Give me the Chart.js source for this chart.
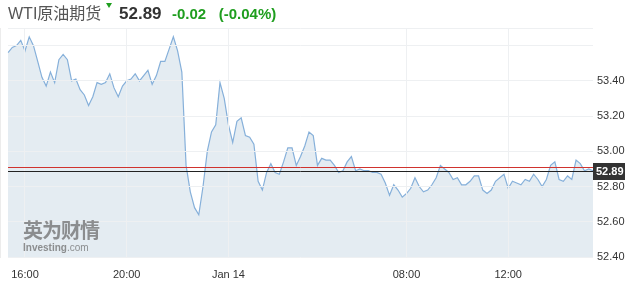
<!DOCTYPE html>
<html>
<head>
<meta charset="utf-8">
<script src="https://cdn.jsdelivr.net/npm/chart.js@4.4.1/dist/chart.umd.min.js"></script>
<style>
    body { margin: 0; background: #fff; }
    #wrap { position: relative; width: 639px; height: 284px; font-family: "Liberation Sans", Arial, "Noto Sans CJK SC", sans-serif; }
    #chart { position: absolute; left: 0; top: 0; }
    .hd { position: absolute; white-space: nowrap; line-height: 1; }
    #name { left: 8px; top: 6px; font-size: 16px; color: #555; }
    #arrow { position: absolute; left: 106px; top: 3px; width: 0; height: 0;
        border-left: 3.5px solid transparent; border-right: 3.5px solid transparent; border-top: 5px solid #1f9e1f; }
    #price { left: 119px; top: 5px; font-size: 17px; font-weight: bold; color: #333; }
    #change { left: 172px; top: 6px; font-size: 15px; font-weight: bold; color: #1f9e1f; }
    #wm1 { left: 23px; top: 220px; font-size: 20px; font-weight: bold; color: rgba(110,110,110,0.75); font-family: "Noto Sans CJK SC", sans-serif; letter-spacing: -1px; }
    #wm2 { left: 23px; top: 243px; font-size: 10px; color: rgba(110,110,110,0.75); }
    #wm2 b { font-weight: bold; }
</style>
</head>
<body>
<div id="wrap">
    <canvas id="chart" width="639" height="284"></canvas>
    <div class="hd" id="name">WTI原油期货</div>
    <div id="arrow"></div>
    <div class="hd" id="price">52.89</div>
    <div class="hd" id="change">-0.02&nbsp;&nbsp;&nbsp;(-0.04%)</div>
    <div class="hd" id="wm1">英为财情</div>
    <div class="hd" id="wm2"><b>Investing</b>.com</div>
</div>
<script>
// preço a cada 10 min, 15:20 -> 15:20 (pausa 06:00-07:00 removida)
const precos = [
    53.56, 53.59, 53.60, 53.63, 53.57, 53.65, 53.60, 53.51, 53.42, 53.37,
    53.45, 53.39, 53.52, 53.55, 53.52, 53.40, 53.41, 53.35, 53.32, 53.26,
    53.31, 53.39, 53.38, 53.39, 53.44, 53.36, 53.31, 53.37, 53.40, 53.41,
    53.44, 53.40, 53.43, 53.46, 53.38, 53.43, 53.51, 53.51, 53.58, 53.65,
    53.57, 53.45, 52.92, 52.77, 52.68, 52.64, 52.80, 53.00, 53.11, 53.15,
    53.39, 53.30, 53.15, 53.05, 53.17, 53.19, 53.09, 53.08, 53.04, 52.83,
    52.78, 52.88, 52.93, 52.88, 52.87, 52.94, 53.02, 53.02, 52.92, 52.97,
    53.03, 53.11, 53.09, 52.92, 52.96, 52.95, 52.95, 52.92, 52.88, 52.89,
    52.94, 52.97, 52.89, 52.90, 52.89, 52.89, 52.88, 52.88, 52.87, 52.82,
    52.75, 52.81, 52.78, 52.74, 52.76, 52.79, 52.85, 52.80, 52.77, 52.78,
    52.81, 52.85, 52.92, 52.90, 52.88, 52.84, 52.85, 52.81, 52.81, 52.83,
    52.86, 52.86, 52.78, 52.76, 52.78, 52.83, 52.85, 52.87, 52.79, 52.83,
    52.82, 52.81, 52.84, 52.83, 52.87, 52.84, 52.80, 52.84, 52.92, 52.94,
    52.84, 52.83, 52.86, 52.84, 52.95, 52.93, 52.89, 52.90, 52.89
];
const categorias = precos.map((_, i) => i);

// rótulos do eixo x e posições (índices)
const xTickIndices = [4, 28, 52, 94, 118];
const xTickLabels = ["16:00", "20:00", "Jan 14", "08:00", "12:00"];

// eixo y
const yMin = 52.40;
const yMax = 53.70;
const yStep = 0.20;
const yLabelMax = 53.40;

const ultimoPreco = 52.89;
const fechamentoAnterior = 52.91;

const linhasPreco = {
    id: "linhasPreco",
    afterDraw(chart) {
        const { ctx, chartArea, scales: { y } } = chart;
        const yPrev = Math.round(y.getPixelForValue(fechamentoAnterior)) + 0.5;
        const yLast = Math.round(y.getPixelForValue(ultimoPreco)) + 0.5;
        ctx.save();
        ctx.lineWidth = 1;
        ctx.strokeStyle = "#d0332e";
        ctx.beginPath();
        ctx.moveTo(chartArea.left, yPrev);
        ctx.lineTo(chartArea.right, yPrev);
        ctx.stroke();
        ctx.strokeStyle = "#222";
        ctx.beginPath();
        ctx.moveTo(chartArea.left, yLast);
        ctx.lineTo(chartArea.right, yLast);
        ctx.stroke();

        // caixa do último preço
        ctx.fillStyle = "#333";
        ctx.fillRect(chartArea.right, yLast - 8.5, 32, 17);
        ctx.fillStyle = "#fff";
        ctx.font = "bold 11px 'Liberation Sans', Arial, sans-serif";
        ctx.textBaseline = "middle";
        ctx.textAlign = "left";
        ctx.fillText(ultimoPreco.toFixed(2), chartArea.right + 3, yLast + 0.5);
        ctx.restore();
    }
};

const ctx = document.getElementById("chart").getContext("2d");
new Chart(ctx, {
    type: "line",
    data: {
        labels: categorias,
        datasets: [{
            data: precos,
            borderColor: "#86b0da",
            borderWidth: 1.2,
            backgroundColor: "#e4ecf2",
            fill: "start",
            pointRadius: 0,
            tension: 0
        }]
    },
    options: {
        responsive: false,
        animation: false,
        events: [],
        layout: { padding: { top: 28, left: 8, right: 0, bottom: 0 } },
        plugins: { legend: { display: false }, tooltip: { enabled: false } },
        scales: {
            x: {
                type: "category",
                offset: false,
                afterBuildTicks: scale => {
                    scale.ticks = scale.ticks.filter(t => xTickIndices.includes(t.value));
                },
                afterFit: scale => { scale.height = 27; },
                grid: { color: "#eef0f2", drawTicks: false, z: 1 },
                border: { display: false },
                ticks: {
                    autoSkip: false,
                    maxRotation: 0,
                    padding: 11,
                    color: "#333",
                    font: { family: "'Liberation Sans', Arial, sans-serif", size: 11 },
                    callback: v => xTickLabels[xTickIndices.indexOf(v)]
                }
            },
            y: {
                position: "right",
                min: yMin,
                max: yMax,
                afterFit: scale => { scale.width = 46; },
                grid: { color: "#eef0f2", drawTicks: false, z: 1 },
                border: { display: true, color: "#d9d9d9" },
                ticks: {
                    stepSize: yStep,
                    padding: 4,
                    color: "#333",
                    font: { family: "'Liberation Sans', Arial, sans-serif", size: 11 },
                    callback: v => (v <= yLabelMax + 0.001 ? v.toFixed(2) : "")
                }
            }
        }
    },
    plugins: [linhasPreco]
});
</script>
</body>
</html>
